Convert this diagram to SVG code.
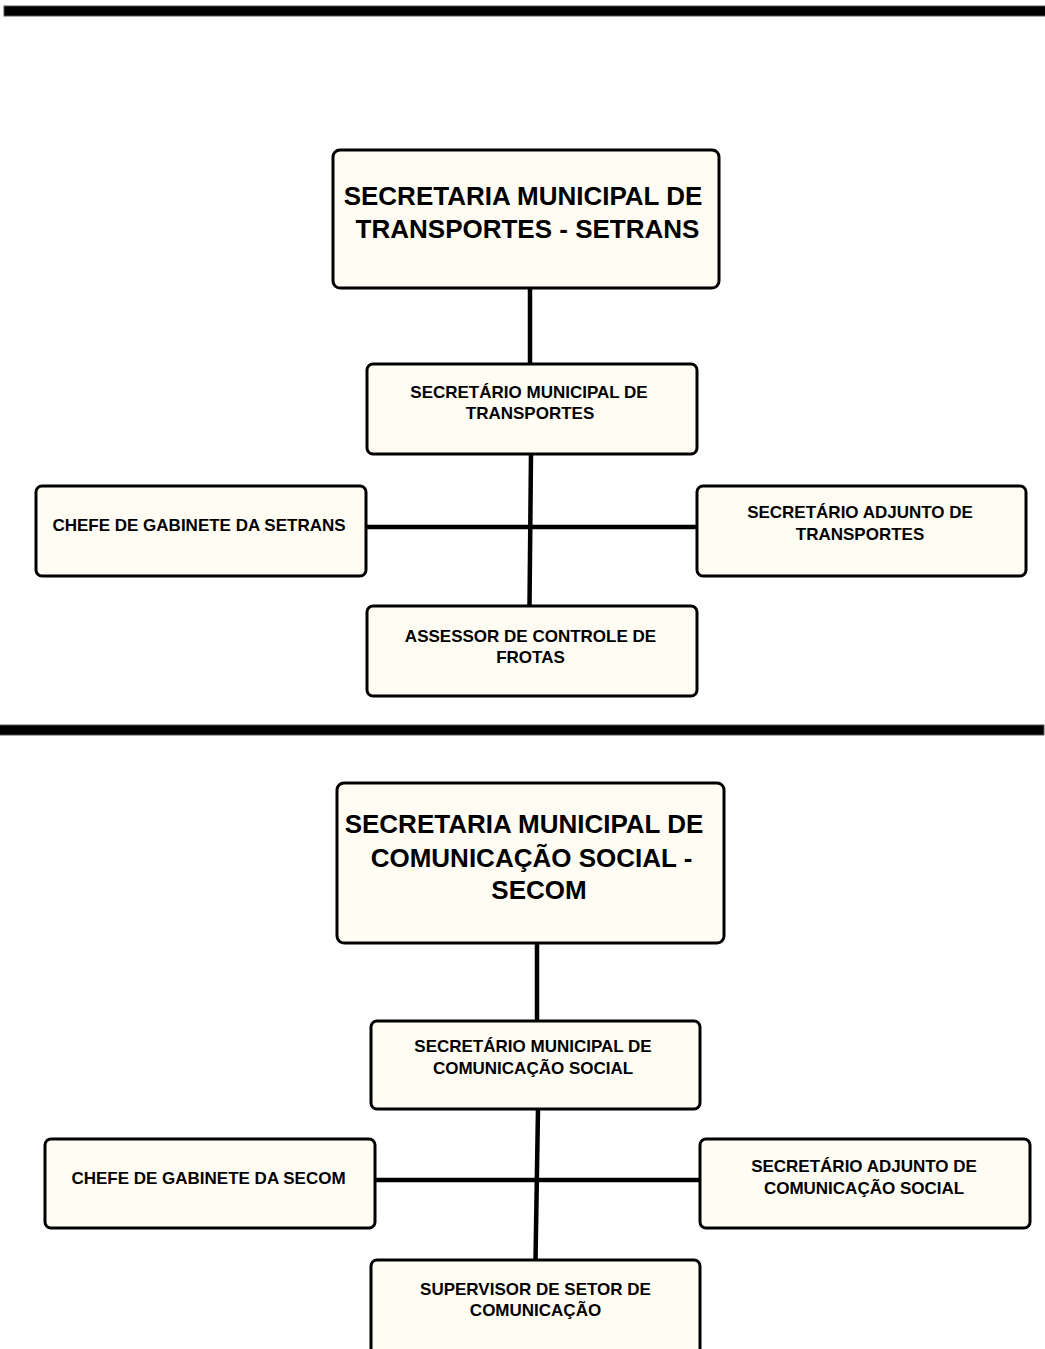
<svg xmlns="http://www.w3.org/2000/svg" width="1045" height="1349" viewBox="0 0 1045 1349">
<style>
.box{fill:#FFFCF4;stroke:#000;stroke-width:3}
.t{font-family:"Liberation Sans",Arial,sans-serif;font-weight:bold;fill:#000;text-anchor:middle}
.big{font-size:26px}
.sm{font-size:17px}
.ln{stroke:#000;stroke-width:4.5;fill:none}
.bar{fill:#000;stroke:#555;stroke-width:1}
</style>
<rect class="bar" x="4" y="6" width="1042" height="10"/>
<rect class="bar" x="-1" y="725" width="1045" height="10"/>
<g id="connectors">
<line class="ln" x1="530" y1="288" x2="530" y2="364"/>
<line class="ln" x1="531" y1="454" x2="529.5" y2="606"/>
<line class="ln" x1="366" y1="527" x2="697" y2="527"/>
<line class="ln" x1="537" y1="943" x2="537" y2="1021"/>
<line class="ln" x1="538" y1="1109" x2="535.5" y2="1260"/>
<line class="ln" x1="375" y1="1180" x2="700" y2="1180"/>
</g>
<g id="n1">
<rect class="box" x="333" y="150" width="386" height="138" rx="7"/>
<text class="t big" x="523" y="205">SECRETARIA MUNICIPAL DE</text>
<text class="t big" x="527.5" y="238">TRANSPORTES - SETRANS</text>
</g>
<g id="n2">
<rect class="box" x="367" y="364" width="330" height="90" rx="6"/>
<text class="t sm" x="529" y="398">SECRETÁRIO MUNICIPAL DE</text>
<text class="t sm" x="530" y="419">TRANSPORTES</text>
</g>
<g id="n3">
<rect class="box" x="36" y="486" width="330" height="90" rx="6"/>
<text class="t sm" x="199" y="531">CHEFE DE GABINETE DA SETRANS</text>
</g>
<g id="n4">
<rect class="box" x="697" y="486" width="329" height="90" rx="6"/>
<text class="t sm" x="860" y="518">SECRETÁRIO ADJUNTO DE</text>
<text class="t sm" x="860" y="540">TRANSPORTES</text>
</g>
<g id="n5">
<rect class="box" x="367" y="606" width="330" height="90" rx="6"/>
<text class="t sm" x="530.5" y="642">ASSESSOR DE CONTROLE DE</text>
<text class="t sm" x="530.5" y="663">FROTAS</text>
</g>
<g id="n6">
<rect class="box" x="337" y="783" width="387" height="160" rx="7"/>
<text class="t big" x="524" y="833">SECRETARIA MUNICIPAL DE</text>
<text class="t big" x="531.5" y="867">COMUNICAÇÃO SOCIAL -</text>
<text class="t big" x="539" y="899">SECOM</text>
</g>
<g id="n7">
<rect class="box" x="371" y="1021" width="329" height="88" rx="6"/>
<text class="t sm" x="533" y="1052">SECRETÁRIO MUNICIPAL DE</text>
<text class="t sm" x="533" y="1074">COMUNICAÇÃO SOCIAL</text>
</g>
<g id="n8">
<rect class="box" x="45" y="1139" width="330" height="89" rx="6"/>
<text class="t sm" x="208.5" y="1184">CHEFE DE GABINETE DA SECOM</text>
</g>
<g id="n9">
<rect class="box" x="700" y="1139" width="330" height="89" rx="6"/>
<text class="t sm" x="864" y="1172">SECRETÁRIO ADJUNTO DE</text>
<text class="t sm" x="864" y="1194">COMUNICAÇÃO SOCIAL</text>
</g>
<g id="n10">
<rect class="box" x="371" y="1260" width="329" height="95" rx="6"/>
<text class="t sm" x="535.5" y="1295">SUPERVISOR DE SETOR DE</text>
<text class="t sm" x="535.5" y="1316">COMUNICAÇÃO</text>
</g>
</svg>
